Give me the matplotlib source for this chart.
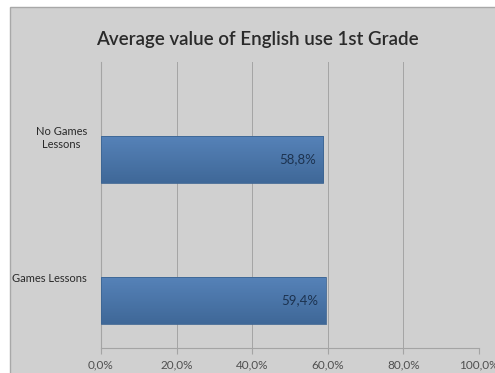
import matplotlib.pyplot as plt
import numpy as np
from matplotlib.patches import Rectangle
from matplotlib.ticker import FuncFormatter
from matplotlib.colors import LinearSegmentedColormap

categories = ["Games Lessons", "No Games\nLessons"]
values = [59.4, 58.8]
x_ticks = [0, 20, 40, 60, 80, 100]
title = "Average value of English use 1st Grade"

plt.rcParams['font.family'] = ['Lato', 'DejaVu Sans']

W, H = 495, 373
fig = plt.figure(figsize=(W / 100, H / 100), dpi=100)
fig.patch.set_facecolor("white")

# chart area panel
panel = Rectangle((10 / W, -0.01), 1, 1 - 7 / H + 0.01, transform=fig.transFigure,
                  facecolor="#d0d0d0", edgecolor="#a8a8a8", linewidth=1.0, zorder=-5)
fig.patches.append(panel)

left, right, top, bottom = 101, 479, 62, 348
ax = fig.add_axes([left / W, 1 - bottom / H, (right - left) / W, (bottom - top) / H])
ax.set_facecolor("none")
ax.set_zorder(2)

ypos = np.arange(len(categories))
bar_h = 0.333
ax.set_xlim(0, 100)
ax.set_ylim(-0.337, 1.69)

# gradient-filled bars
grad = np.linspace(0, 1, 64).reshape(-1, 1)
cmap = LinearSegmentedColormap.from_list("bar", ["#3f6898", "#5682b8"])
for y, v in zip(ypos, values):
    ax.imshow(grad, cmap=cmap, aspect="auto", origin="lower",
              extent=(0, v, y - bar_h / 2, y + bar_h / 2), zorder=3)
    ax.add_patch(Rectangle((0, y - bar_h / 2), v, bar_h, facecolor="none",
                           edgecolor="#3d6592", linewidth=0.6, zorder=4))
    ax.text(v - 1.8, y, f"{v:.1f}%".replace(".", ","), ha="right", va="center",
            fontsize=9.5, color="#1c324f", zorder=5)

ax.set_xticks(x_ticks)
ax.xaxis.set_major_formatter(FuncFormatter(lambda x, p: f"{x:.1f}%".replace(".", ",")))
ax.grid(axis="x", color="#a4a4a4", linewidth=0.7, zorder=1)
ax.set_yticks(ypos + 0.165)
ax.set_yticklabels(categories, fontsize=8, color="#2a2a2a")
for lbl in ax.get_yticklabels():
    lbl.set_multialignment("center")
ax.tick_params(axis="y", length=0, pad=10)
ax.tick_params(axis="x", length=4, color="#a4a4a4", labelsize=8.5,
               labelcolor="#505050", pad=4)
for s in ["top", "right"]:
    ax.spines[s].set_visible(False)
for s in ["left", "bottom"]:
    ax.spines[s].set_color("#a4a4a4")
    ax.spines[s].set_linewidth(0.8)

fig.text(257 / W, 1 - 40 / H, title, ha="center", va="center",
         fontsize=13.5, fontweight="semibold", color="#2a2a2a")

fig.savefig("out.png", dpi=100)
